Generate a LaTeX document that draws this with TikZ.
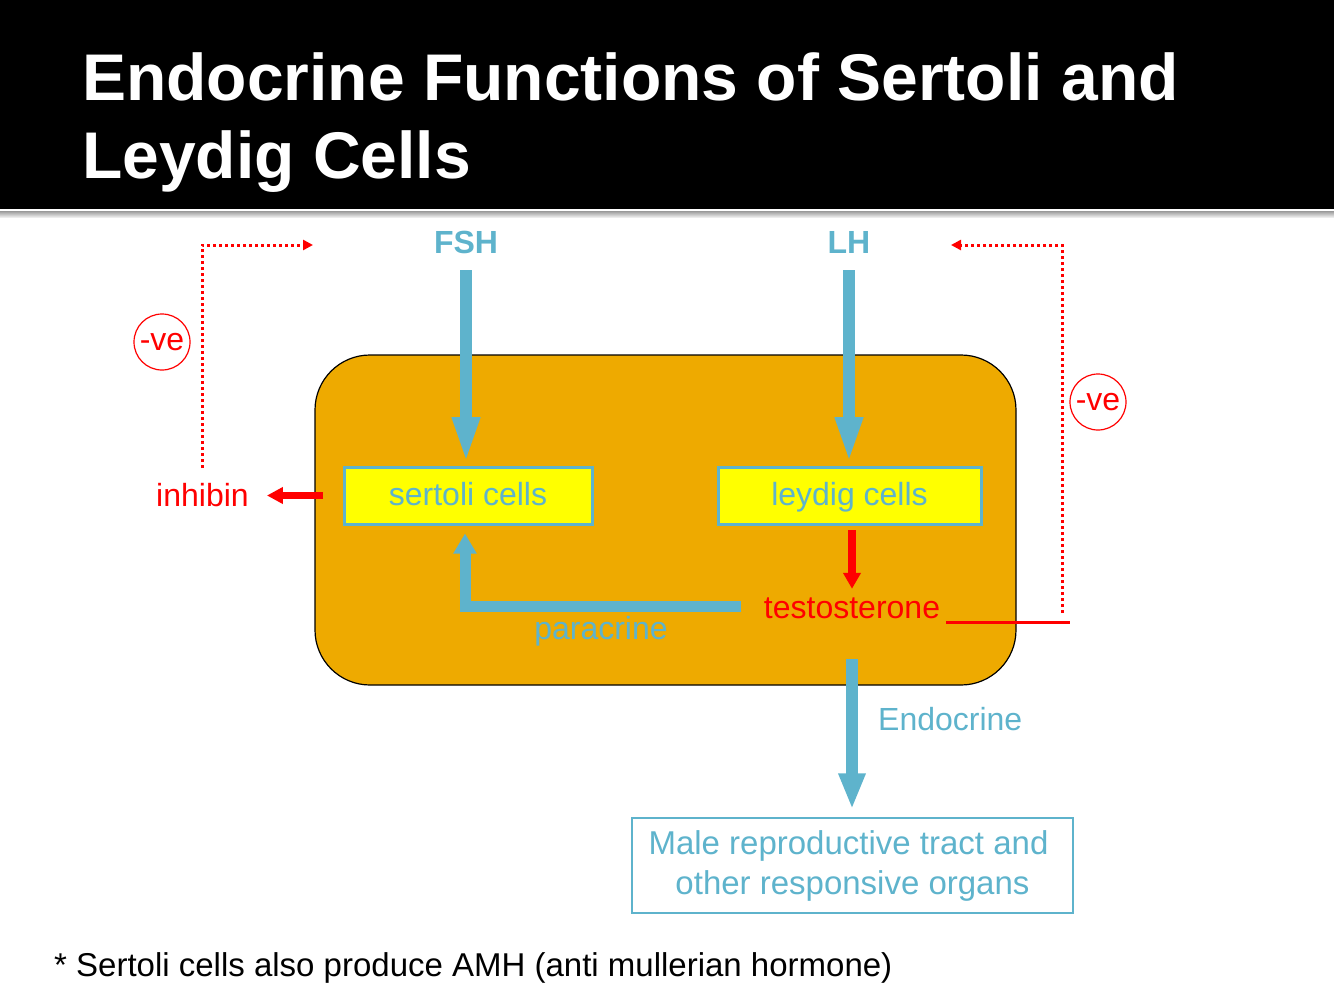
\documentclass[tikz,border=0pt]{standalone}
\usepackage{fontspec}
\setmainfont{Liberation Sans}
\usetikzlibrary{arrows.meta}
\definecolor{hblue}{HTML}{5EB3CC}
\definecolor{cellorange}{HTML}{EEAA00}
\definecolor{hred}{HTML}{FF0000}
\definecolor{cellyellow}{HTML}{FFFF00}
\begin{document}
\begin{tikzpicture}[x=1pt,y=-1pt,
  txt/.style={inner sep=0pt, font=\fontsize{32}{38}\selectfont},
  bluetxt/.style={txt, text=hblue},
  redtxt/.style={txt, text=hred},
  cellbox/.style={draw=hblue, line width=3pt, fill=cellyellow, minimum height=57pt,
    text=hblue, font=\fontsize{32}{38}\selectfont, inner sep=0pt,
    text height=23pt, text depth=4pt},
  bigarrow/.style={draw=hblue, line width=12pt, -{Triangle[length=47pt,width=25pt]}},
  endoarrow/.style={draw=hblue, line width=12pt, -{Triangle[length=36pt,width=25pt]}},
  paraarrow/.style={draw=hblue, line width=11pt, line join=miter, -{Triangle[length=20pt,width=22pt]}},
  redarrow/.style={draw=hred, line width=8pt, -{Triangle[length=16pt,width=17pt]}},
  inharrow/.style={draw=hred, line width=7pt, -{Triangle[length=16pt,width=16pt]}},
  dotarrow/.style={draw=hred, line width=3pt, dash pattern=on 3pt off 3pt, -{Triangle[length=10pt,width=10pt]}},
  vecircle/.style={circle, draw=hred, line width=1.2pt, minimum size=56pt, inner sep=0pt,
    text=hred, font=\fontsize{32}{38}\selectfont}
]
\useasboundingbox (0,0) rectangle (1334,1001);
% title bar
\fill[black] (0,0) rectangle (1334,209);
\shade[top color=gray!80, bottom color=gray!15] (0,211) rectangle (1334,217);
\node[anchor=base west, text=white, font=\bfseries\fontsize{66}{78}\selectfont, inner sep=0pt] (title1) at (82,100) {Endocrine Functions of Sertoli and};
\node[anchor=base west, text=white, font=\bfseries\fontsize{66}{78}\selectfont, inner sep=0pt] (title2) at (82,178) {Leydig Cells};

% main cell box
\node[draw=black, line width=1.2pt, fill=cellorange, rounded corners=55pt,
  minimum width=701pt, minimum height=330pt] (cell) at (665.5,520) {};

% boxes
\node[cellbox, minimum width=248pt] (sertoli) at (468,495.5) {sertoli cells};
\node[cellbox, minimum width=263pt] (leydig) at (849.5,495.5) {leydig cells};

% hormone labels
\node[bluetxt, font=\bfseries\fontsize{32}{38}\selectfont, anchor=base, text height=23pt, text depth=0pt] (fsh) at (466,253) {FSH};
\node[bluetxt, font=\bfseries\fontsize{32}{38}\selectfont, anchor=base, text height=23pt, text depth=0pt] (lh) at (849,253) {LH};
\node[redtxt, anchor=base, text height=23pt, text depth=0pt] (inhibin) at (202.5,506) {inhibin};
\node[redtxt, anchor=base, text height=23pt, text depth=0pt] (testo) at (852,618) {testosterone};
\node[bluetxt, anchor=base] (para) at (601,639) {paracrine};
\node[bluetxt, anchor=base west] (endo) at (878,730) {Endocrine};

\node[draw=hblue, line width=1.5pt, minimum width=441pt, minimum height=95pt,
  align=center, text=hblue, font=\fontsize{33}{40}\selectfont, inner sep=0pt] (male) at (852.5,865.5)
  {\hspace*{-8pt}Male reproductive tract and\\ other responsive organs};

\node[vecircle] (ve1) at (162,342) {-ve};
\node[vecircle] (ve2) at (1098,402) {-ve};

% arrows
\draw[bigarrow, shorten <=17pt, shorten >=1.5pt] (fsh.south) -- (fsh.south |- sertoli.north);
\draw[bigarrow, shorten <=17pt, shorten >=1.5pt] (lh.south) -- (lh.south |- leydig.north);
\draw[redarrow, shorten <=4.5pt, shorten >=6pt] (testo.north |- leydig.south) -- (testo.north);
\draw[inharrow, shorten <=19.5pt, shorten >=18pt] (sertoli.west) -- (sertoli.west -| inhibin.east);
\draw[paraarrow, shorten >=8pt] ([xshift=-23pt]testo.west) -| ([xshift=-3pt]sertoli.south);
\draw[endoarrow, shorten <=41pt, shorten >=8pt] (testo.south) -- (testo.south |- male.north);

% feedback
\coordinate (fbl) at (313,245);
\coordinate (fbr) at (951,245);
\coordinate (tline) at (1070,622);
\draw[dotarrow, shorten <=14.6pt] (inhibin.north) |- (fbl);
\draw[draw=hred, line width=3pt] ([shift={(6,4)}]testo.base east) -- (tline);
\draw[dotarrow] ([shift={(-8,-9)}]tline) |- (fbr);

% footnote
\node[anchor=base west, font=\fontsize{33}{40}\selectfont, inner sep=0pt] (note) at (54,976)
  {* Sertoli cells also produce AMH (anti mullerian hormone)};
\end{tikzpicture}
\end{document}
